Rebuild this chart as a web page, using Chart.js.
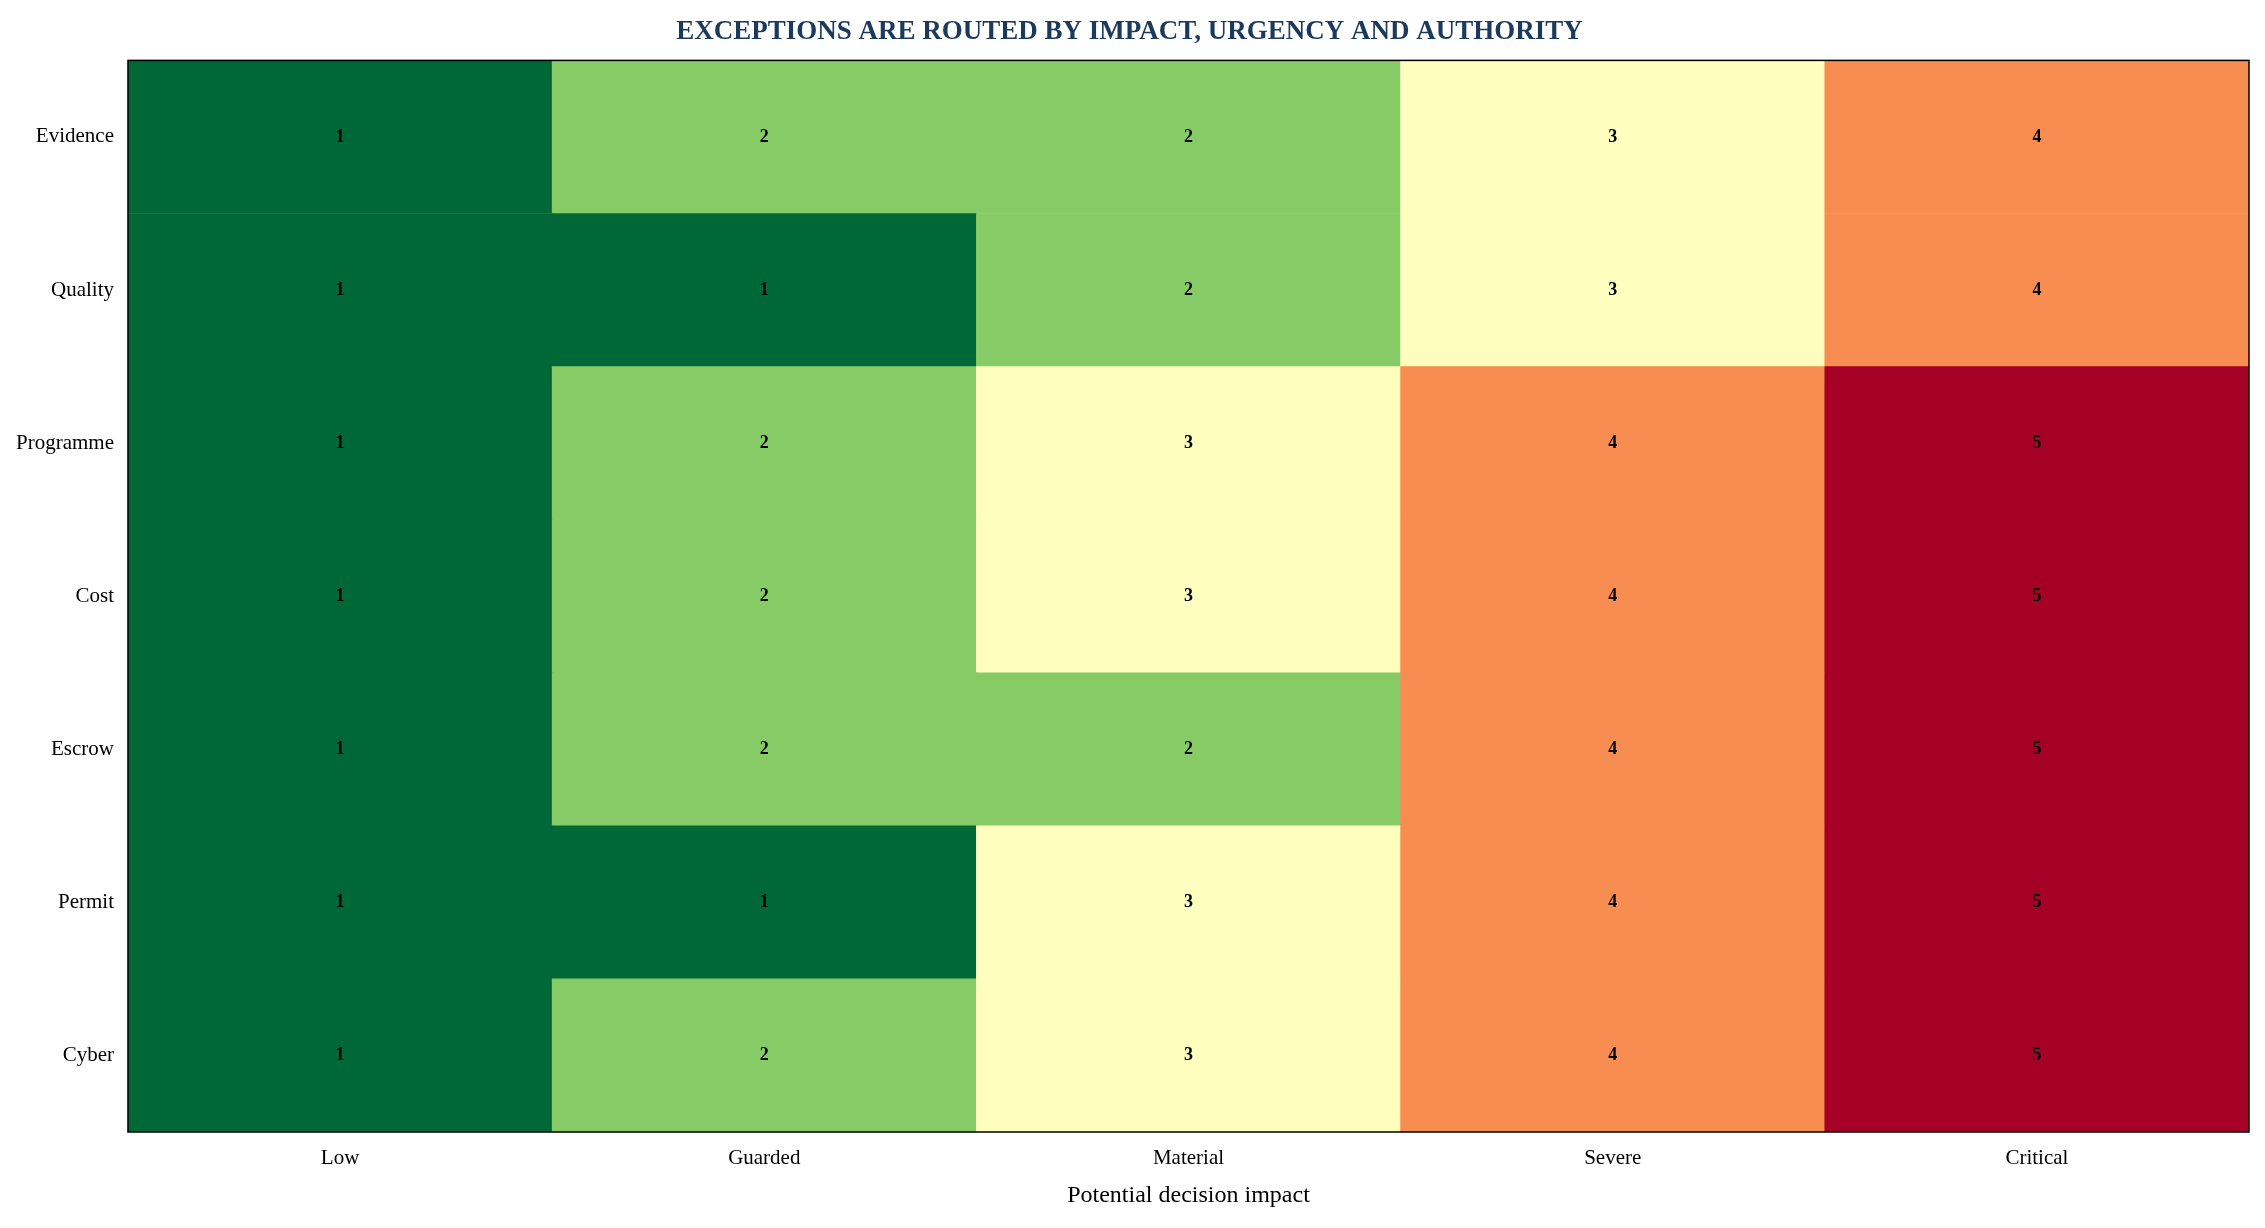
<!DOCTYPE html>
<html>
<head>
<meta charset="utf-8">
<script src="https://cdn.jsdelivr.net/npm/chart.js@4/dist/chart.umd.min.js"></script>
<style>
  html, body { margin: 0; padding: 0; background: #fff; }
  #wrap { width: 2265px; height: 1228px; }
</style>
</head>
<body>
<div id="wrap"><canvas id="heat"></canvas></div>
<script>
// columns left to right, rows top to bottom
const impactLevels = ['Low', 'Guarded', 'Material', 'Severe', 'Critical'];
const categories = ['Evidence', 'Quality', 'Programme', 'Cost', 'Escrow', 'Permit', 'Cyber'];
const scores = [
    [1, 2, 2, 3, 4],
    [1, 1, 2, 3, 4],
    [1, 2, 3, 4, 5],
    [1, 2, 3, 4, 5],
    [1, 2, 2, 4, 5],
    [1, 1, 3, 4, 5],
    [1, 2, 3, 4, 5]
];
const levelColors = { 1: '#006837', 2: '#86cb66', 3: '#feffbe', 4: '#f88d52', 5: '#a50026' };

// stacked bars: bottom dataset is the last row (Cyber)
const rowsBottomUp = categories.slice().reverse();
const datasets = rowsBottomUp.map((name, i) => {
    const row = scores[categories.length - 1 - i];
    return {
        label: name,
        data: impactLevels.map(() => 1),
        scores: row,
        backgroundColor: row.map(v => levelColors[v]),
        borderWidth: 0,
        barPercentage: 1,
        categoryPercentage: 1
    };
});

const cellLabels = {
    id: 'cellLabels',
    afterDatasetsDraw(chart) {
        const ctx = chart.ctx;
        ctx.save();
        ctx.font = 'bold 18px "Liberation Serif", serif';
        ctx.fillStyle = '#000';
        ctx.textAlign = 'center';
        ctx.textBaseline = 'middle';
        chart.data.datasets.forEach((ds, di) => {
            chart.getDatasetMeta(di).data.forEach((bar, j) => {
                const mid = (bar.y + bar.base) / 2;
                ctx.fillText(ds.scores[j], bar.x, mid);
            });
        });
        const a = chart.chartArea;
        ctx.strokeStyle = '#000';
        ctx.lineWidth = 1.5;
        ctx.strokeRect(a.left, a.top, a.right - a.left, a.bottom - a.top);
        ctx.restore();
    }
};

Chart.defaults.font.family = '"Liberation Serif", "Times New Roman", serif';
Chart.defaults.color = '#000';

new Chart(document.getElementById('heat'), {
    type: 'bar',
    data: { labels: impactLevels, datasets: datasets },
    options: {
        responsive: true,
        maintainAspectRatio: false,
        animation: false,
        layout: { padding: { left: 10, right: 16, top: 4, bottom: 14 } },
        plugins: {
            legend: { display: false },
            tooltip: { enabled: false },
            title: {
                display: true,
                text: 'EXCEPTIONS ARE ROUTED BY IMPACT, URGENCY AND AUTHORITY',
                color: '#1b3a5c',
                font: { size: 27, weight: 'bold' },
                padding: { top: 12, bottom: 12 }
            }
        },
        scales: {
            x: {
                stacked: true,
                grid: { display: false, drawTicks: true, tickLength: 8, tickColor: '#000' },
                border: { display: false },
                ticks: { font: { size: 21 }, padding: 6 },
                title: { display: true, text: 'Potential decision impact', font: { size: 24 }, padding: { top: 4 } }
            },
            y: {
                stacked: true,
                min: 0,
                max: categories.length,
                grid: { display: false, drawTicks: true, tickLength: 8, tickColor: '#000' },
                border: { display: false },
                afterBuildTicks(scale) {
                    scale.ticks = rowsBottomUp.map((_, i) => ({ value: i + 0.5 }));
                },
                ticks: {
                    font: { size: 21 },
                    padding: 6,
                    callback: (value) => rowsBottomUp[Math.floor(value)]
                }
            }
        }
    },
    plugins: [cellLabels]
});
</script>
</body>
</html>
